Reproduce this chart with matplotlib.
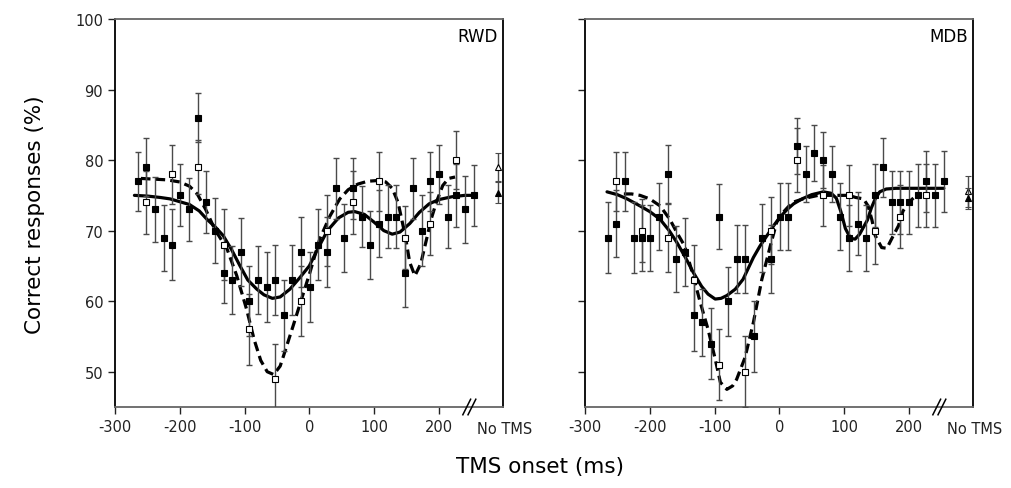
import numpy as np
import matplotlib
matplotlib.use("Agg")
import matplotlib.pyplot as plt
import matplotlib.transforms as mtransforms

plt.rcParams["axes.unicode_minus"] = False

# TMS onset (ms) of the single points
t_filled = [-265, -252, -239, -225, -212, -199, -186, -172, -159, -146, -132, -119, -106, -93,
            -79, -66, -53, -39, -26, -13, 1, 14, 27, 41, 54, 67, 81, 94, 107, 121, 134, 147,
            160, 174, 187, 200, 214, 227, 240, 254]
t_open = [-252, -212, -172, -132, -93, -53, -13, 27, 67, 107, 147, 187, 227]

# RWD
rwd_filled = [77, 79, 73, 69, 68, 75, 73, 86, 74, 70, 64, 63, 67, 60, 63, 62, 63, 58, 63, 67,
              62, 68, 67, 76, 69, 76, 72, 68, 71, 72, 72, 64, 76, 70, 77, 78, 72, 75, 73, 75]
rwd_filled_err = [4.2, 4.1, 4.6, 4.7, 5.0, 4.4, 4.4, 3.5, 4.4, 4.6, 4.3, 4.8, 4.8, 5.0, 4.8,
                  5.0, 5.0, 5.0, 5.0, 5.0, 5.0, 5.0, 5.0, 4.3, 4.8, 4.3, 4.3, 4.8, 4.8, 4.5,
                  4.5, 4.8, 4.3, 5.0, 4.2, 4.2, 4.5, 4.5, 4.8, 4.3]
rwd_open = [74, 78, 79, 68, 56, 49, 60, 70, 74, 77, 69, 71, 80]
rwd_open_err = [4.5, 4.2, 3.8, 5.0, 5.0, 5.0, 5.0, 5.0, 4.5, 4.2, 4.5, 4.5, 4.1]
rwd_notms = {"open": (79.0, 2.0), "filled": (75.4, 1.5)}

rwd_solid_t = [-270, -250, -230, -215, -200, -185, -170, -158, -145, -133, -120, -107, -95,
               -81, -70, -57, -45, -30, -15, 0, 14, 28, 45, 60, 70, 85, 100, 115, 128, 140,
               155, 170, 185, 200, 220, 240, 254]
rwd_solid = [75.0, 74.9, 74.7, 74.5, 74.1, 73.7, 72.8, 71.6, 70.5, 69.3, 67.3, 65.0, 63.0,
             61.7, 60.9, 60.4, 60.6, 61.7, 63.3, 65.0, 67.6, 70.0, 71.8, 72.6, 72.7, 72.3,
             71.2, 70.0, 69.5, 69.8, 71.0, 72.6, 73.8, 74.4, 74.8, 75.0, 75.0]
rwd_dash_t = [-260, -240, -220, -200, -185, -173, -160, -146, -127, -112, -97, -85, -75, -65,
              -55, -45, -40, -25, -12, 1, 16, 32, 47, 60, 75, 90, 105, 118, 128, 137, 148,
              155, 163, 172, 181, 188, 196, 206, 215, 225]
rwd_dash = [77.4, 77.3, 77.2, 76.9, 76.3, 75.2, 73.0, 70.2, 67.4, 63.6, 58.9, 54.5, 51.6,
            50.0, 49.6, 50.8, 52.2, 56.5, 60.3, 64.1, 68.8, 72.1, 74.5, 75.8, 76.6, 77.0,
            77.1, 76.9, 76.0, 74.0, 69.3, 65.5, 63.6, 65.3, 68.8, 71.6, 74.0, 76.4, 77.4, 77.6]

# MDB
mdb_filled = [69, 71, 77, 69, 69, 69, 72, 78, 66, 67, 58, 57, 54, 72, 60, 66, 66, 55, 69, 66,
              72, 72, 82, 78, 81, 80, 78, 72, 69, 71, 69, 75, 79, 74, 74, 74, 75, 77, 75, 77]
mdb_filled_err = [5.0, 4.7, 4.2, 5.0, 4.7, 4.7, 4.7, 4.1, 4.7, 4.8, 5.0, 4.7, 5.0, 4.6, 4.9,
                  4.8, 4.8, 5.0, 4.8, 4.8, 4.8, 4.8, 4.0, 4.0, 4.0, 4.0, 4.0, 4.8, 4.7, 4.5,
                  4.7, 4.5, 4.2, 4.5, 4.5, 4.5, 4.5, 4.3, 4.5, 4.3]
mdb_open = [77, 70, 69, 63, 51, 50, 70, 80, 75, 75, 70, 72, 75]
mdb_open_err = [4.2, 4.5, 4.8, 5.0, 5.0, 5.0, 4.8, 4.5, 4.3, 4.3, 4.7, 4.5, 4.5]
mdb_notms = {"open": (75.6, 2.2), "filled": (74.6, 1.5)}

mdb_solid_t = [-266, -250, -235, -215, -200, -184, -170, -158, -145, -133, -120, -110, -99,
               -90, -81, -68, -56, -40, -30, -19, -8, 1, 12, 22, 35, 50, 68, 80, 88, 95, 102,
               110, 117, 124, 130, 136, 142, 148, 155, 165, 180, 210, 254]
mdb_solid = [75.5, 75.1, 74.5, 73.5, 72.7, 71.6, 70.0, 68.3, 66.2, 64.1, 62.1, 61.0, 60.3,
             60.4, 60.8, 61.7, 63.1, 66.2, 67.8, 69.3, 70.8, 71.9, 73.0, 73.8, 74.5, 75.1,
             75.5, 75.3, 74.6, 72.7, 70.3, 68.9, 68.8, 69.5, 70.5, 71.5, 73.2, 74.5, 75.5,
             75.9, 76.0, 76.0, 76.0]
mdb_dash_t = [-240, -228, -215, -200, -184, -169, -158, -146, -133, -122, -110, -99, -91, -81,
              -72, -66, -53, -40, -27, -14, -4, 6, 20, 40, 60, 80, 107, 118, 130, 137, 143,
              148, 158, 166, 176, 184, 191, 202, 214]
mdb_dash = [75.2, 75.2, 75.0, 74.5, 73.5, 71.6, 69.7, 67.8, 63.6, 59.8, 56.0, 51.8, 48.5,
            47.5, 48.0, 48.9, 52.0, 57.0, 63.1, 67.8, 71.2, 72.6, 74.0, 74.6, 75.0, 75.0,
            75.0, 74.7, 74.5, 73.5, 71.5, 69.3, 67.6, 67.5, 69.3, 70.7, 72.8, 74.2, 75.2]

panels = [
    ("RWD", rwd_filled, rwd_filled_err, rwd_open, rwd_open_err, rwd_notms,
     rwd_solid_t, rwd_solid, rwd_dash_t, rwd_dash),
    ("MDB", mdb_filled, mdb_filled_err, mdb_open, mdb_open_err, mdb_notms,
     mdb_solid_t, mdb_solid, mdb_dash_t, mdb_dash),
]

W, H = 1011, 489
fig = plt.figure(figsize=(W / 100, H / 100), dpi=100)
bar_c = "#4a4a4a"
notms_x = 292

for i, (name, fv, fe, ov, oe, nt, st, sv, dt, dv) in enumerate(panels):
    left = 115 if i == 0 else 585
    ax = fig.add_axes([left / W, 1 - 408 / H, 388 / W, 388 / H])
    ax.plot(st, sv, color="black", lw=2.3, zorder=2, solid_capstyle="round")
    ax.plot(dt, dv, color="black", lw=2.3, zorder=2, dashes=(3.0, 1.6))
    ax.errorbar(t_filled, fv, yerr=fe, fmt="none", ecolor=bar_c, elinewidth=1,
                capsize=2.2, capthick=1, zorder=3)
    ax.errorbar(t_open, ov, yerr=oe, fmt="none", ecolor=bar_c, elinewidth=1,
                capsize=2.2, capthick=1, zorder=3)
    ax.plot(t_filled, fv, "s", ms=4.3, mfc="black", mec="black", mew=0.8, zorder=4)
    ax.plot(t_open, ov, "s", ms=4.3, mfc="white", mec="black", mew=0.8, zorder=5)
    # no-TMS control
    for key, fc, z in (("open", "white", 4), ("filled", "black", 5)):
        eb = ax.errorbar([notms_x], [nt[key][0]], yerr=[nt[key][1]], fmt="^", ms=4.5,
                         mfc=fc, mec="black", mew=0.8, ecolor=bar_c, elinewidth=1,
                         capsize=2.2, zorder=z)
        for art in eb.lines[0:1] + tuple(eb.lines[1]) + tuple(eb.lines[2]):
            art.set_clip_on(False)

    ax.set_xlim(-300, 299)
    ax.set_ylim(45, 100)
    ax.set_xticks([-300, -200, -100, 0, 100, 200])
    ax.set_yticks([50, 60, 70, 80, 90, 100])
    ax.tick_params(direction="out", length=5, width=1, labelsize=10.5, colors="#222")
    if i == 0:
        ax.set_yticklabels(["50", "60", "70", "80", "90", "100"])
    else:
        ax.set_yticklabels([])
    for side in ("top", "bottom"):
        ax.spines[side].set_color("#666")
        ax.spines[side].set_linewidth(1.3)
    for side in ("left", "right"):
        ax.spines[side].set_color("black")
        ax.spines[side].set_linewidth(1.3)

    trans = mtransforms.blended_transform_factory(ax.transData, ax.transAxes)
    for x0 in (243, 251):
        ax.plot([x0 - 6, x0 + 6], [-0.02, 0.02], color="black", lw=1.1,
                transform=trans, clip_on=False, zorder=6)
    ax.text(302, -0.035, "No TMS", transform=trans, ha="center", va="top", fontsize=10.5,
            color="#222")
    ax.text(0.987, 0.957, name, transform=ax.transAxes, ha="right", va="center",
            fontsize=12)

fig.text(35 / W, 1 - 215 / H, "Correct responses (%)", rotation=90, ha="center",
         va="center", fontsize=15.5)
fig.text(540 / W, 1 - 467 / H, "TMS onset (ms)", ha="center", va="center", fontsize=15.5)

fig.savefig("out.png", dpi=100)
